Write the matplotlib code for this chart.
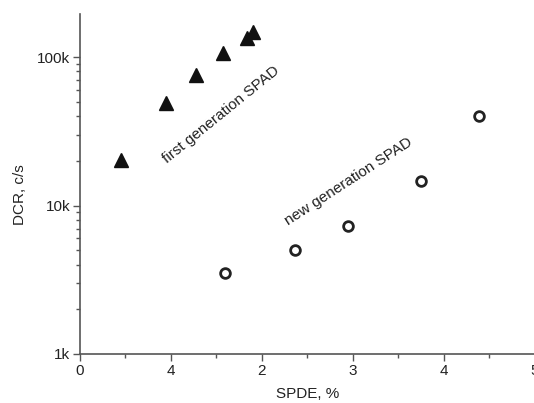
import matplotlib.pyplot as plt
from matplotlib.ticker import FixedLocator, LogLocator, NullFormatter

plt.rcParams["font.family"] = ["Liberation Sans", "DejaVu Sans"]

# first generation SPAD (triangles)
first_spde = [0.45, 0.94, 1.28, 1.57, 1.83, 1.90]
first_dcr = [20200, 49000, 75700, 107000, 134000, 148000]

# new generation SPAD (open circles)
new_spde = [1.59, 2.36, 2.95, 3.75, 4.38]
new_dcr = [3500, 5000, 7300, 14700, 40000]

x_ticks = [0, 1, 2, 3, 4, 5]
x_tick_labels = ["0", "4", "2", "3", "4", "5"]
y_ticks = [1000, 10000, 100000]
y_tick_labels = ["1k", "10k", "100k"]

axis_color = "#555555"
text_color = "#222222"

fig = plt.figure(figsize=(5.34, 4.03), dpi=100)
ax = fig.add_axes([0.1498, 0.1216, 0.852, 0.8437])

ax.plot(first_spde, first_dcr, linestyle="none", marker="^", markersize=10,
        color="#111111")
ax.plot(new_spde, new_dcr, linestyle="none", marker="o", markersize=7,
        markerfacecolor="white", markeredgecolor="#222222", markeredgewidth=2)

ax.set_yscale("log")
ax.set_xlim(0, 5)
ax.set_ylim(1000, 195000)

ax.set_xticks(x_ticks)
ax.set_xticklabels(x_tick_labels)
ax.xaxis.set_minor_locator(FixedLocator([0.5, 1.5, 2.5, 3.5, 4.5]))
ax.set_yticks(y_ticks)
ax.set_yticklabels(y_tick_labels)
ax.yaxis.set_minor_locator(LogLocator(base=10, subs=range(2, 10)))
ax.yaxis.set_minor_formatter(NullFormatter())

for side in ["top", "right"]:
    ax.spines[side].set_visible(False)
for side in ["left", "bottom"]:
    ax.spines[side].set_color(axis_color)
    ax.spines[side].set_linewidth(1.2)

ax.tick_params(which="major", length=5, width=1, color=axis_color,
               labelsize=11, labelcolor=text_color, pad=2)
ax.tick_params(which="minor", length=3, width=1, color=axis_color)

ax.set_xlabel("SPDE, %", fontsize=11, color=text_color, labelpad=7)
ax.set_ylabel("DCR, c/s", fontsize=11, color=text_color)
ax.yaxis.set_label_coords(-0.116, 0.47)

ax.text(1.55, 40700, "first generation SPAD", rotation=39, fontsize=11,
        ha="center", va="center", rotation_mode="anchor", color=text_color)
ax.text(2.95, 14500, "new generation SPAD", rotation=33, fontsize=11,
        ha="center", va="center", rotation_mode="anchor", color=text_color)

fig.savefig("out.png", dpi=100)
